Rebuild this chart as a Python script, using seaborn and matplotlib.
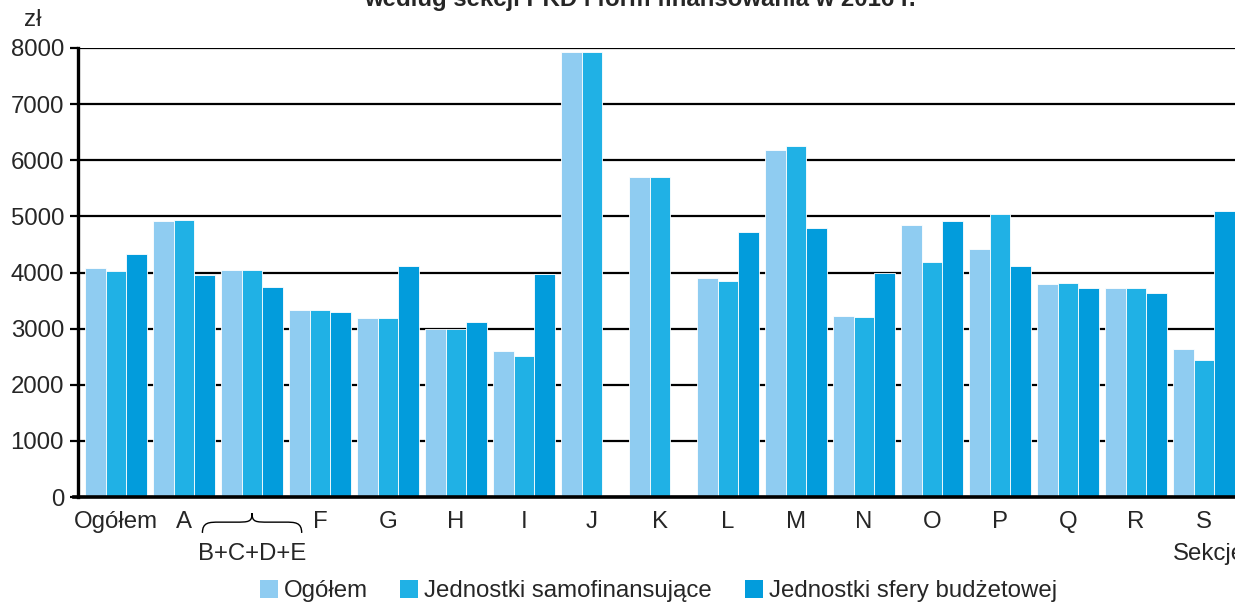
import numpy as np
import pandas as pd
import matplotlib
matplotlib.use("Agg")
import matplotlib.pyplot as plt
from matplotlib.path import Path
from matplotlib.patches import PathPatch, Patch
import matplotlib.transforms as mtransforms
import seaborn as sns

categories = ["Ogółem", "A", "B+C+D+E", "F", "G", "H", "I", "J", "K",
              "L", "M", "N", "O", "P", "Q", "R", "S"]
tick_labels = ["Ogółem", "A", "", "F", "G", "H", "I", "J", "K",
               "L", "M", "N", "O", "P", "Q", "R", "S"]
series_names = ["Ogółem", "Jednostki samofinansujące", "Jednostki sfery budżetowej"]

ogolem = [4080, 4920, 4040, 3330, 3190, 2990, 2600, 7920, 5710,
          3910, 6180, 3220, 4850, 4410, 3800, 3720, 2630]
samofinansujace = [4030, 4930, 4040, 3330, 3190, 2990, 2520, 7920, 5710,
                   3840, 6260, 3210, 4180, 5050, 3820, 3730, 2440]
budzetowe = [4330, 3950, 3750, 3300, 4120, 3120, 3970, np.nan, np.nan,
             4720, 4790, 4000, 4920, 4110, 3730, 3640, 5090]

colors = ["#8FCCF1", "#20B1E5", "#029CDC"]

rows = []
for name, vals in zip(series_names, [ogolem, samofinansujace, budzetowe]):
    for c, v in zip(categories, vals):
        rows.append({"sekcja": c, "seria": name, "wartosc": v})
df = pd.DataFrame(rows)

sns.set_style("white")
plt.rcParams["font.family"] = ["Liberation Sans", "DejaVu Sans"]
FS = 17.3

fig = plt.figure(figsize=(12.35, 6.05), dpi=100)
ax = fig.add_axes([78 / 1235, 1 - 497 / 605, 1164 / 1235, 449 / 605])

sns.barplot(data=df, x="sekcja", y="wartosc", hue="seria", order=categories,
            hue_order=series_names, palette=colors, width=0.91, gap=0,
            errorbar=None, edgecolor="white", linewidth=0.6, saturation=1,
            legend=False, ax=ax, zorder=3)

ax.set_xlim(-0.56, 16.56)
ax.set_ylim(0, 8000)
ax.set_yticks(np.arange(0, 8001, 1000))
ax.set_yticklabels([str(v) for v in range(0, 8001, 1000)], fontsize=FS)
ax.set_xticks(range(len(categories)))
ax.set_xticklabels(tick_labels, fontsize=FS)
ax.set_xlabel("")
ax.set_ylabel("")

ax.yaxis.grid(True, color="black", linewidth=1.6, zorder=0)
ax.set_axisbelow(True)
ax.tick_params(axis="y", length=6, width=1.6, color="black", pad=4, left=True)
ax.tick_params(axis="x", length=0, pad=10)

for s in ["top", "right"]:
    ax.spines[s].set_visible(False)
ax.spines["left"].set_linewidth(2.4)
ax.spines["left"].set_color("black")
ax.spines["bottom"].set_linewidth(2.6)
ax.spines["bottom"].set_color("black")
ax.spines["left"].set_zorder(4)
ax.spines["bottom"].set_zorder(4)
ax.spines["bottom"].set_bounds(-0.62, 16.56)

# brace under B+C+D+E
trans = mtransforms.blended_transform_factory(ax.transData, ax.transAxes)
x0, x1, xm = 1.27, 2.73, 2.0
ytop, ymid, ybot = -0.036, -0.056, -0.080
verts = [(x0, ybot),
         (x0, ymid), (x0 + 0.1, ymid), (x0 + 0.25, ymid),
         (xm - 0.25, ymid),
         (xm - 0.05, ymid), (xm, ymid), (xm, ytop),
         (xm, ymid), (xm + 0.05, ymid), (xm + 0.25, ymid),
         (x1 - 0.25, ymid),
         (x1 - 0.1, ymid), (x1, ymid), (x1, ybot)]
codes = [Path.MOVETO,
         Path.CURVE4, Path.CURVE4, Path.CURVE4,
         Path.LINETO,
         Path.CURVE4, Path.CURVE4, Path.CURVE4,
         Path.CURVE4, Path.CURVE4, Path.CURVE4,
         Path.LINETO,
         Path.CURVE4, Path.CURVE4, Path.CURVE4]
brace = PathPatch(Path(verts, codes), transform=trans, facecolor="none",
                  edgecolor="black", linewidth=1.0, clip_on=False)
ax.add_patch(brace)
ax.text(2.0, -0.127, "B+C+D+E", transform=trans, ha="center", va="center",
        fontsize=FS, clip_on=False)
ax.text(15.54, -0.127, "Sekcje", transform=trans, ha="left", va="center",
        fontsize=FS, clip_on=False)

fig.text(33 / 1235, 1 - 20 / 605, "zł", ha="center", va="center", fontsize=FS)
fig.text(0.518, 1 - 6 / 605, "według sekcji PKD i form finansowania w 2016 r.",
         ha="center", va="baseline", fontsize=FS, fontweight="bold")

handles = [Patch(facecolor=c, edgecolor="none") for c in colors]
fig.legend(handles, series_names, loc="center", bbox_to_anchor=(0.533, 1 - 591 / 605),
           ncol=3, frameon=False, fontsize=FS, handlelength=0.75, handleheight=0.75,
           handletextpad=0.25, columnspacing=1.35, borderpad=0, borderaxespad=0)

fig.savefig("out.png", dpi=100)
